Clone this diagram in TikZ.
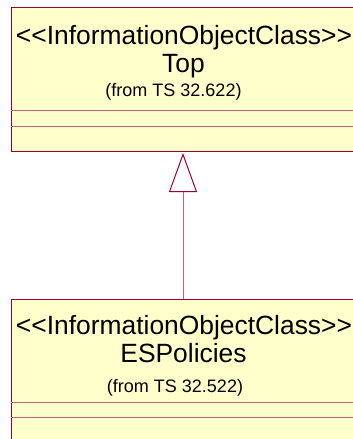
\documentclass[tikz,border=0pt]{standalone}
\usepackage{fontspec}
\setmainfont{Liberation Sans}
\usetikzlibrary{arrows.meta}
\definecolor{boxfill}{RGB}{255,255,204}
\definecolor{boxline}{RGB}{153,0,51}
\definecolor{sepline}{RGB}{200,96,120}
\newcommand{\lt}{\mbox{<}}
\newcommand{\gtr}{\mbox{>}}
\tikzset{
  classbox/.style={draw=boxline, fill=boxfill, line width=1pt, inner sep=0pt, anchor=north west, minimum width=341.5pt},
  stereo/.style={anchor=base, inner sep=0pt, font=\fontsize{26.4}{28}\selectfont},
  cname/.style={anchor=base, inner sep=0pt, font=\fontsize{26.4}{28}\selectfont},
  fromtxt/.style={anchor=base, inner sep=0pt, font=\fontsize{18}{20}\selectfont},
  sep/.style={draw=sepline, line width=1pt},
  genline/.style={draw=sepline, line width=1pt, -{Triangle[open, length=39pt, width=28pt, color=boxline, line width=1pt]}}
}
\begin{document}
\begin{tikzpicture}[x=1pt,y=1pt]
\useasboundingbox (0,0) rectangle (353,-439);
\clip (0,0) rectangle (353,-439);
% top class
\node[classbox, minimum height=143.7pt] (top) at (11,-7.3) {};
\node[stereo] (topst) at (184,-44) {\lt\lt InformationObjectClass\gtr\gtr};
\node[cname] (topname) at (183.5,-72.7) {Top};
\node[fromtxt] (topfrom) at (173.5,-96.7) {(from TS 32.622)};
\coordinate (ts1l) at (11,-110.7); \coordinate (ts1r) at (352.5,-110.7);
\coordinate (ts2l) at (11,-126.7); \coordinate (ts2r) at (352.5,-126.7);
\draw[sep] (ts1l) -- (ts1r);
\draw[sep] (ts2l) -- (ts2r);
% bottom class
\node[classbox, minimum height=160pt] (bot) at (11,-299.3) {};
\node[stereo] (botst) at (184,-334) {\lt\lt InformationObjectClass\gtr\gtr};
\node[cname] (botname) at (183.5,-362.5) {ESPolicies};
\node[fromtxt] (botfrom) at (175,-392.5) {(from TS 32.522)};
\coordinate (bs1l) at (11,-402.3); \coordinate (bs1r) at (352.5,-402.3);
\coordinate (bs2l) at (11,-417.7); \coordinate (bs2r) at (352.5,-417.7);
\draw[sep] (bs1l) -- (bs1r);
\draw[sep] (bs2l) -- (bs2r);
% generalization
\coordinate (gstart) at (183,-299.3);
\coordinate (gend) at (183,-153);
\draw[genline] (gstart) -- (gend);
\end{tikzpicture}
\end{document}
